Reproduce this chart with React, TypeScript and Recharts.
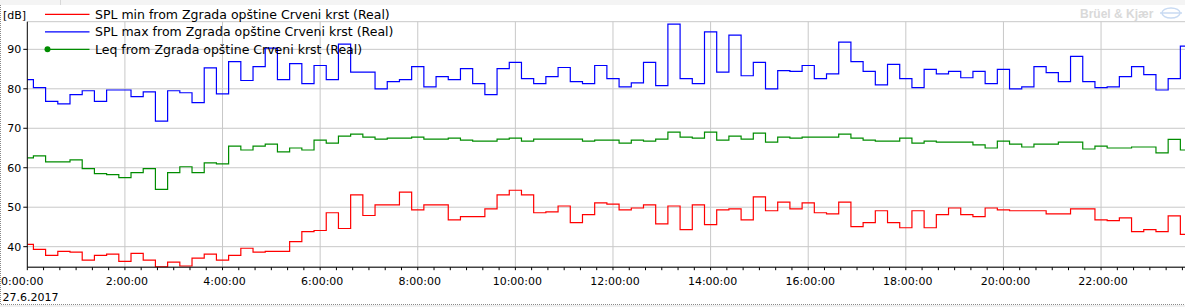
import React from "react";
import { LineChart, Line, XAxis, YAxis, CartesianGrid } from "recharts";

// 15-minute SPL values, 27.6.2017 (first interval is half length)
const maxSpl = [
  82.3, 80.3, 76.8, 76.2, 78.5, 79.5, 76.8, 79.7, 79.7, 78.0, 79.2, 71.8,
  79.5, 79.0, 76.5, 85.3, 78.7, 86.9, 82.1, 85.6, 90.3, 82.3, 86.4, 81.3,
  85.9, 82.3, 91.3, 84.2, 84.2, 80.0, 81.8, 82.3, 85.6, 80.5, 83.1, 82.3,
  85.1, 81.3, 78.5, 85.1, 86.7, 82.6, 81.3, 83.1, 85.4, 81.8, 81.3, 85.9,
  82.6, 80.5, 81.5, 86.7, 80.8, 96.4, 82.6, 81.3, 94.4, 84.2, 93.6, 83.3,
  86.7, 80.0, 84.6, 84.4, 85.9, 82.6, 83.8, 91.8, 86.9, 84.4, 81.0, 86.2,
  82.6, 80.3, 84.9, 83.8, 84.4, 82.8, 84.4, 81.3, 84.9, 80.0, 80.5, 85.6,
  84.1, 81.8, 88.2, 81.8, 80.3, 80.5, 83.1, 85.6, 83.6, 79.7, 82.6, 90.8,
];

const minSpl = [
  40.6, 39.3, 37.8, 38.8, 38.6, 36.6, 37.8, 38.1, 36.3, 38.3, 36.6, 34.9,
  36.1, 35.1, 37.1, 38.1, 36.6, 37.8, 39.6, 38.6, 38.8, 38.8, 41.3, 43.8,
  44.1, 48.6, 44.6, 53.1, 47.9, 50.6, 50.6, 53.8, 49.3, 50.6, 50.6, 46.8,
  47.6, 47.6, 49.6, 53.1, 54.3, 53.1, 48.6, 48.8, 50.3, 46.1, 48.1, 51.1,
  50.8, 49.3, 49.8, 50.6, 45.8, 50.3, 44.3, 50.6, 45.6, 49.3, 49.6, 46.8,
  52.6, 49.1, 51.3, 49.6, 51.1, 48.6, 48.3, 51.3, 45.1, 46.1, 49.1, 46.1,
  44.8, 49.1, 44.8, 48.1, 49.8, 48.1, 47.6, 49.8, 49.3, 49.1, 49.1, 49.1,
  48.3, 48.3, 49.6, 49.6, 46.8, 46.6, 47.3, 43.8, 44.3, 43.8, 47.8, 43.1,
];

const leq = [
  62.5, 63.0, 61.5, 61.5, 62.0, 59.75, 58.5, 58.25, 57.5, 58.75, 59.75, 54.5,
  58.75, 60.25, 58.75, 61.25, 61.0, 65.5, 64.5, 65.5, 66.0, 64.0, 65.0, 64.5,
  67.0, 66.25, 68.0, 68.5, 67.75, 67.25, 67.5, 67.5, 67.75, 67.25, 67.25, 67.5,
  67.0, 66.75, 66.75, 67.25, 67.5, 66.75, 67.25, 67.25, 67.25, 67.25, 66.75, 67.0,
  67.0, 66.25, 67.0, 66.75, 67.25, 69.0, 67.75, 67.5, 69.0, 67.0, 68.0, 67.25,
  68.75, 66.5, 67.75, 67.5, 67.75, 67.75, 67.75, 68.5, 67.5, 67.0, 66.75, 66.75,
  67.5, 66.25, 66.75, 66.5, 66.5, 66.5, 65.8, 65.0, 66.75, 66.0, 65.25, 66.0,
  66.0, 66.5, 66.5, 64.75, 65.5, 65.0, 65.0, 65.25, 65.25, 63.75, 67.2, 64.5,
];

const hourTicks = [0, 2, 4, 6, 8, 10, 12, 14, 16, 18, 20, 22];
const minorTicks = Array.from({ length: 72 }, (_, i) => i / 3);
const dbTicks = [40, 50, 60, 70, 80, 90];
const dateLabel = "27.6.2017";

const SERIES = [
  { key: "min", name: "SPL min from Zgrada opštine Crveni krst (Real)", color: "#ff0000" },
  { key: "max", name: "SPL max from Zgrada opštine Crveni krst (Real)", color: "#0000ff" },
  { key: "leq", name: "Leq from Zgrada opštine Crveni krst (Real)", color: "#008c00", dot: true },
];

const FONT = "'DejaVu Sans', sans-serif";

// time (hours) at the start of each interval
const data = maxSpl.map((v, i) => ({
  t: i === 0 ? 0 : 0.125 + (i - 1) * 0.25,
  min: minSpl[i],
  max: v,
  leq: leq[i],
}));
data.push({ t: 0.125 + (maxSpl.length - 1) * 0.25, min: minSpl[minSpl.length - 1], max: maxSpl[maxSpl.length - 1], leq: leq[leq.length - 1] });

const TimeTick = (props: any) => {
  const { x, y, payload } = props;
  const idx = Math.round(payload.value * 3);
  if (idx % 6 !== 0) return null;
  const h = idx / 3;
  const label = `${h}:00:00`;
  return (
    <text
      x={h === 0 ? 1 : x + 2}
      y={y + 12.5}
      textAnchor={h === 0 ? "start" : "middle"}
      fontSize={11}
      fontFamily={FONT}
      fill="#000"
    >
      {label}
    </text>
  );
};

const verticalGrid = (p: any) => {
  const { xAxis, offset } = p;
  return hourTicks.slice(1).map((h) =>
    xAxis && typeof xAxis.scale === "function"
      ? xAxis.scale(h)
      : offset.left + (h / 23.72) * offset.width
  );
};

const App: React.FC = () => {
  return (
    <div style={{ position: "absolute", left: 0, top: 0, width: 1185, height: 307, background: "#fff" }}>
      <LineChart
        width={1185}
        height={307}
        data={data}
        margin={{ top: 21.7, right: 0, bottom: 0, left: 0 }}
      >
        <CartesianGrid
          stroke="#c8c8c8"
          horizontal={true}
          vertical={true}
          verticalCoordinatesGenerator={verticalGrid}
        />
        <XAxis
          dataKey="t"
          type="number"
          domain={[0, 23.72]}
          allowDataOverflow
          ticks={minorTicks}
          interval={0}
          tickSize={3}
          height={39.8}
          axisLine={{ stroke: "#000" }}
          tickLine={{ stroke: "#000" }}
          tick={<TimeTick />}
        />
        <YAxis
          type="number"
          domain={[34.8, 97]}
          allowDataOverflow
          ticks={dbTicks}
          interval={0}
          width={27.3}
          tickSize={4}
          axisLine={{ stroke: "#000" }}
          tickLine={{ stroke: "#000" }}
          tick={{ fill: "#000", fontSize: 11, fontFamily: FONT }}
        />
        {SERIES.map((s) => (
          <Line
            key={s.key}
            dataKey={s.key}
            type="stepAfter"
            stroke={s.color}
            strokeWidth={1.2}
            dot={false}
            activeDot={false}
            isAnimationActive={false}
          />
        ))}
      </LineChart>

      <svg
        width={1185}
        height={307}
        style={{ position: "absolute", left: 0, top: 0, pointerEvents: "none" }}
      >
        <rect x={0} y={0} width={1185} height={5} fill="#f4f4f4" />
        <line x1={60.5} y1={0} x2={60.5} y2={5} stroke="#d8d8d8" />
        <rect x={0} y={305} width={1185} height={2} fill="#f0f0f0" />
        <path d="M0.5 5 V304.5 H1185" fill="none" stroke="#8a8a8a" strokeDasharray="1 1" />

        <text x={3} y={18.5} fontSize={11} fontFamily={FONT} fill="#000">[dB]</text>
        <text x={2.5} y={300.5} fontSize={11} fontFamily={FONT} fill="#000">{dateLabel}</text>

        {SERIES.map((s, i) => {
          const cy = 14.3 + i * 17.5;
          return (
            <g key={s.key}>
              <line x1={45} y1={cy} x2={89.5} y2={cy} stroke={s.color} strokeWidth={1.2} />
              {s.dot ? <circle cx={47.5} cy={cy} r={3} fill={s.color} /> : null}
              <text x={95} y={cy + 4.6} fontSize={12.5} fontFamily={FONT} fill="#000">
                {s.name}
              </text>
            </g>
          );
        })}

        <text x={1080} y={18} fontSize={12} fontWeight="bold" fontFamily="'Liberation Sans', Arial, sans-serif" fill="#d9d9d9">
          Brüel &amp; Kjær
        </text>
        <ellipse cx={1171} cy={13} rx={9} ry={5} fill="none" stroke="#c8daf2" strokeWidth={1.5} />
        <line x1={1160} y1={13} x2={1182} y2={13} stroke="#c8daf2" strokeWidth={1.5} />
      </svg>
    </div>
  );
};

export default App;
